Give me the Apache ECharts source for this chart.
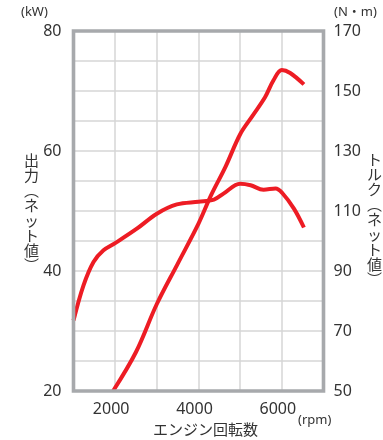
<!DOCTYPE html>
<html>
<head>
<meta charset="utf-8">
<script src="https://cdn.jsdelivr.net/npm/echarts@6/dist/echarts.min.js"></script>
<style>html,body{margin:0;padding:0;background:#fff}#c{width:383px;height:440px}</style>
</head>
<body>
<div id="c"></div>
<script>
// rpm / kW (output)
const powerRpm = [1950, 2500, 3000, 3500, 4000, 4300, 4650, 5000, 5300, 5600, 5800, 6000, 6200, 6530];
const powerKw  = [20, 26.5, 34.5, 41.2, 47.9, 52.6, 57.4, 62.8, 65.9, 69.0, 71.8, 73.5, 73.0, 71.1];
// rpm / N·m (torque)
const torqueRpm = [1000, 1240, 1480, 1720, 2000, 2520, 3000, 3480, 4000, 4370, 4600, 5000, 5250, 5560, 5850, 6010, 6290, 6530];
const torqueNm  = [73.5, 85.2, 93.0, 96.9, 99.3, 104.1, 109.1, 112.2, 113.1, 113.8, 115.8, 119.1, 118.6, 117.1, 117.5, 116.0, 110.8, 104.5];
const xTickLabels = [2000, 4000, 6000];
const leftTickLabels = [20, 40, 60, 80];
const rightTickLabels = [50, 70, 90, 110, 130, 150, 170];

const txt = '#333333';
const font = '"Noto Sans", "Noto Sans CJK JP", sans-serif';
const chart = echarts.init(document.getElementById('c'));
chart.setOption({
  animation: false,
  grid: { left: 73.5, right: 59.5, top: 31, bottom: 49, show: true, borderColor: '#a7a9ac', borderWidth: 3.6, backgroundColor: 'transparent', z: 3 },
  xAxis: {
    type: 'value', min: 1000, max: 7000, interval: 1000,
    axisLine: { show: false }, axisTick: { show: false },
    splitLine: { show: true, lineStyle: { color: '#d6d6d6', width: 1.5 } },
    axisLabel: { color: txt, fontSize: 16, fontFamily: font, margin: 10, padding: [0, 8, 0, 0],
      formatter: v => xTickLabels.includes(v) ? String(v) : '' }
  },
  yAxis: [
    { type: 'value', min: 20, max: 80, interval: 5,
      axisLine: { show: false }, axisTick: { show: false },
      splitLine: { show: true, lineStyle: { color: '#d6d6d6', width: 1.5 } },
      axisLabel: { color: txt, fontSize: 16, fontFamily: font, margin: 12,
        formatter: v => leftTickLabels.includes(v) ? String(v) : '' } },
    { type: 'value', min: 50, max: 170, interval: 10, position: 'right',
      axisLine: { show: false }, axisTick: { show: false }, splitLine: { show: false },
      axisLabel: { color: txt, fontSize: 16, fontFamily: font, margin: 10,
        formatter: v => rightTickLabels.includes(v) ? String(v) : '' } }
  ],
  series: [
    { type: 'line', yAxisIndex: 0, data: powerRpm.map((r, i) => [r, powerKw[i]]),
      smooth: 0.35, symbol: 'none', lineStyle: { color: '#ed1c24', width: 4 }, z: 2 },
    { type: 'line', yAxisIndex: 1, data: torqueRpm.map((r, i) => [r, torqueNm[i]]),
      smooth: 0.35, symbol: 'none', lineStyle: { color: '#ed1c24', width: 4 }, z: 2 }
  ],
  graphic: [
    { type: 'text', left: 21, top: 6, style: { text: '(kW)', fill: txt, font: '13px ' + font } },
    { type: 'text', left: 334, top: 6, style: { text: '(N・m)', fill: txt, font: '13px ' + font } },
    { type: 'text', left: 153, top: 422, style: { text: 'エンジン回転数', fill: txt, font: '15px "Noto Sans CJK JP", sans-serif' } },
    { type: 'text', left: 298, top: 414, style: { text: '(rpm)', fill: txt, font: '13px ' + font } },
    { type: 'text', left: 24, top: 153, style: { text: '出\n力\n︵\nネ\nッ\nト\n値\n︶', fill: txt, font: '15px "Noto Sans CJK JP", sans-serif', lineHeight: 15, align: 'left' } },
    { type: 'text', left: 367, top: 152, style: { text: 'ト\nル\nク\n︵\nネ\nッ\nト\n値\n︶', fill: txt, font: '15px "Noto Sans CJK JP", sans-serif', lineHeight: 15, align: 'left' } }
  ]
});
</script>
</body>
</html>
